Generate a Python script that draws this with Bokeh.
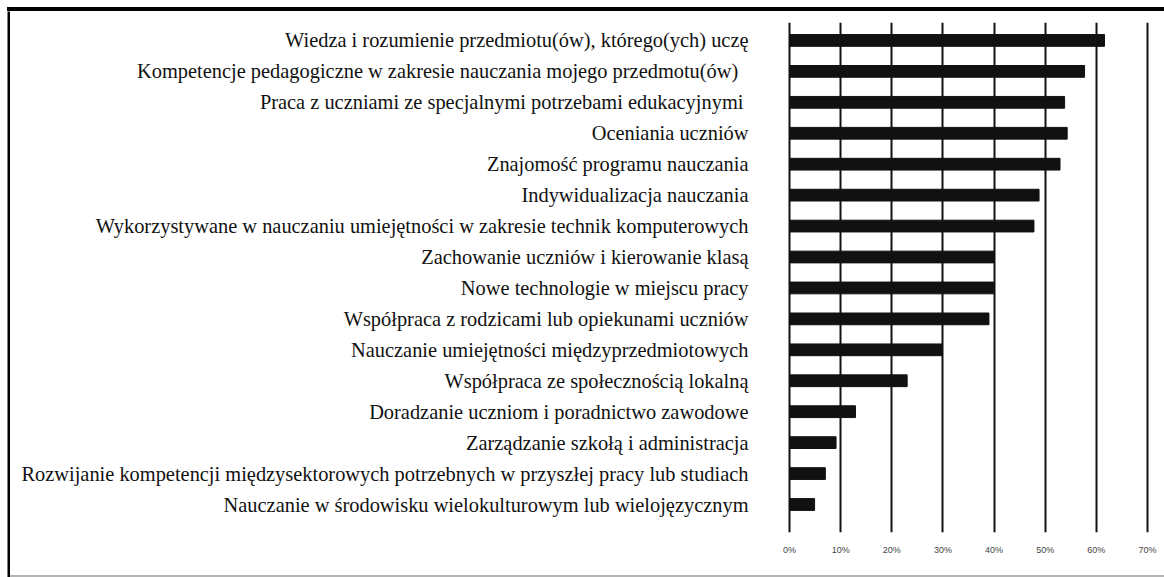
from bokeh.plotting import figure
from bokeh.models import Range1d, FixedTicker, PrintfTickFormatter, ColumnDataSource, Spacer
from bokeh.layouts import column, row
from bokeh.embed import file_html
from bokeh.resources import INLINE

categories = [
    "Wiedza i rozumienie przedmiotu(ów), którego(ych) uczę",
    "Kompetencje pedagogiczne  w zakresie  nauczania mojego przedmotu(ów)",
    "Praca z uczniami  ze specjalnymi potrzebami edukacyjnymi",
    "Oceniania uczniów",
    "Znajomość programu nauczania",
    "Indywidualizacja nauczania",
    "Wykorzystywane w nauczaniu umiejętności w zakresie technik komputerowych",
    "Zachowanie uczniów i kierowanie klasą",
    "Nowe technologie w miejscu pracy",
    "Współpraca z rodzicami lub opiekunami uczniów",
    "Nauczanie umiejętności międzyprzedmiotowych",
    "Współpraca ze społecznością lokalną",
    "Doradzanie uczniom i poradnictwo zawodowe",
    "Zarządzanie szkołą i administracja",
    "Rozwijanie kompetencji międzysektorowych potrzebnych w przyszłej pracy lub studiach",
    "Nauczanie w środowisku wielokulturowym lub wielojęzycznym",
]
values = [61.6, 57.7, 53.8, 54.3, 52.9, 48.8, 47.8, 40.0, 39.9, 39.0, 29.9, 23.0, 12.9, 9.1, 7.0, 4.9]
x_ticks = [0, 10, 20, 30, 40, 50, 60, 70]

n = len(categories)
pos = [n - 1 - i for i in range(n)]
src = ColumnDataSource(dict(pos=pos, val=values, cat=categories))

p = figure(width=1154, height=564, output_backend="svg", toolbar_location=None,
           x_range=Range1d(-0.4, 70.4), y_range=Range1d(-0.905, 15.58),
           min_border_left=777, min_border_right=15, min_border_top=11, min_border_bottom=43)
p.outline_line_color = None
p.background_fill_color = "white"
p.border_fill_color = "white"

p.hbar(y="pos", right="val", left=0, height=0.38, source=src, color="#111111")

p.xgrid.ticker = FixedTicker(ticks=x_ticks)
p.xgrid.grid_line_color = "#111111"
p.xgrid.grid_line_width = 2
p.ygrid.grid_line_color = None

p.xaxis.ticker = FixedTicker(ticks=x_ticks)
p.xaxis.formatter = PrintfTickFormatter(format="%d%%")
p.xaxis.axis_line_color = None
p.xaxis.major_tick_line_color = None
p.xaxis.major_tick_out = 0
p.xaxis.major_tick_in = 0
p.xaxis.minor_tick_line_color = None
p.xaxis.major_label_standoff = 12
p.xaxis.major_label_text_font = "Liberation Sans"
p.xaxis.major_label_text_font_size = "9px"
p.xaxis.major_label_text_color = "#444444"

p.yaxis.ticker = FixedTicker(ticks=pos)
p.yaxis.major_label_overrides = {pp: c for pp, c in zip(pos, categories)}
p.yaxis.axis_line_color = None
p.yaxis.major_tick_line_color = None
p.yaxis.major_tick_out = 0
p.yaxis.major_tick_in = 0
p.yaxis.minor_tick_line_color = None
p.yaxis.major_label_standoff = 39
p.yaxis.major_label_text_font = "Liberation Serif"
p.yaxis.major_label_text_font_size = "20.4px"
p.yaxis.major_label_text_color = "#111111"


def edge(w, h, color):
    return Spacer(width=w, height=h,
                  styles={"background-color": color, "background": color})


left_edge = figure(width=3, height=566, output_backend="svg", toolbar_location=None,
                   x_axis_location=None, y_axis_location=None,
                   min_border_left=0, min_border_right=0, min_border_top=0, min_border_bottom=0)
left_edge.outline_line_color = None
left_edge.background_fill_color = "#000000"
left_edge.border_fill_color = "#000000"
left_edge.grid.visible = False

top_edge = edge(1157, 4, "#000000")
bottom_edge = edge(1154, 2, "#b4b4b4")

layout = column(
    Spacer(width=1164, height=7),
    row(Spacer(width=7, height=570),
        column(top_edge,
               row(left_edge, column(p, bottom_edge, spacing=0), spacing=0),
               spacing=0),
        spacing=0),
    spacing=0,
)

open("out.html", "w").write(file_html(layout, INLINE))
